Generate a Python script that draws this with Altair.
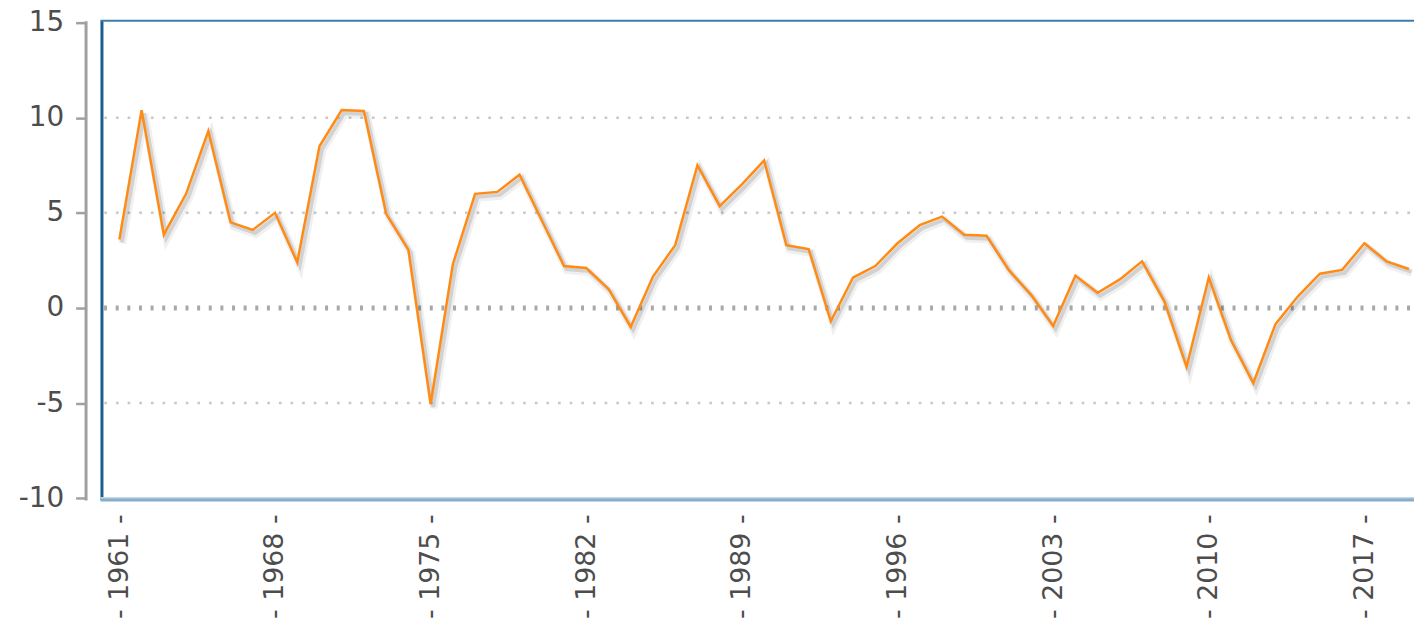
import altair as alt
import pandas as pd

# ---- data ----
years = list(range(1961, 2020))
values = [3.6, 10.4, 3.85, 6.0, 9.3, 4.5, 4.1, 5.0, 2.4, 8.5,
          10.4, 10.35, 4.95, 3.05, -5.05, 2.3, 6.0, 6.1, 7.0, 4.6,
          2.2, 2.1, 1.0, -1.0, 1.65, 3.3, 7.5, 5.35, 6.5, 7.75,
          3.3, 3.1, -0.7, 1.6, 2.2, 3.4, 4.35, 4.8, 3.85, 3.8,
          2.0, 0.7, -0.95, 1.7, 0.8, 1.5, 2.45, 0.35, -3.1, 1.6,
          -1.7, -3.95, -0.85, 0.6, 1.8, 2.0, 3.4, 2.45, 2.05]
x_tick_years = [1961, 1968, 1975, 1982, 1989, 1996, 2003, 2010, 2017]
y_ticks = [-10, -5, 0, 5, 10, 15]
grid_values = [-5, 5, 10]
zero_values = [0]

df = pd.DataFrame({"year": years, "value": values})
grid_df = pd.DataFrame({"value": grid_values})
zero_df = pd.DataFrame({"value": zero_values})
one_df = pd.DataFrame({"k": [0]})

W = 1321
H = 482
FONT = "DejaVu Sans"
TXT = "#4d4d4d"

x_scale = alt.Scale(domain=[1960.15, 2019.23], nice=False, zero=False)
y_scale = alt.Scale(domain=[-10.09, 15.1], nice=False, zero=False)

x_axis = alt.Axis(values=x_tick_years, format="d", labelAngle=270, labelAlign="right",
                  labelBaseline="middle", labelPadding=14, ticks=False, tickSize=0,
                  domain=False, grid=False, labelFont=FONT, labelFontSize=27,
                  labelColor=TXT, labelOverlap=False, labelFlush=False, labelBound=False,
                  labelExpr="'-\u00a0' + datum.label + '\u00a0-'", title=None)
y_axis = alt.Axis(values=y_ticks, offset=15, domain=True, domainColor="#a0a0a0",
                  domainWidth=3, ticks=True, tickColor="#a0a0a0", tickSize=10, tickWidth=2.5,
                  labelPadding=12, labelFont=FONT, labelFontSize=28, labelColor=TXT,
                  labelExpr="datum.value < 0 ? '-' + abs(datum.value) : '' + datum.value",
                  grid=False, labelOverlap=False, labelFlush=False, labelBound=False, title=None)

X = alt.X("year:Q", scale=x_scale, axis=x_axis)
Y = alt.Y("value:Q", scale=y_scale, axis=y_axis)

grid = alt.Chart(grid_df).mark_rule(color="#c8c8c8", strokeWidth=2.5, strokeDash=[2.7, 9],
                                    strokeDashOffset=7.7).encode(y=Y)
zero = alt.Chart(zero_df).mark_rule(color="#a8a8a8", strokeWidth=5, strokeDash=[3, 8.7],
                                    strokeDashOffset=7.7).encode(y=Y)

shadow1 = alt.Chart(df).mark_line(color="#000000", opacity=0.06, strokeWidth=8,
                                  xOffset=3, yOffset=4).encode(x=X, y=Y)
shadow2 = alt.Chart(df).mark_line(color="#000000", opacity=0.12, strokeWidth=4,
                                  xOffset=2.5, yOffset=3).encode(x=X, y=Y)
line = alt.Chart(df).mark_line(color="#ff8a14", strokeWidth=2.5).encode(x=X, y=Y)

border = alt.Chart(one_df)
left_b = border.mark_rule(color="#1b5b8e", strokeWidth=3).encode(
    x=alt.value(1.5), y=alt.value(0), y2=alt.value(H))
top_b = border.mark_rule(color="#3f7bab", strokeWidth=2).encode(
    x=alt.value(0), x2=alt.value(W), y=alt.value(0))
bot_b1 = border.mark_rule(color="#c2d6e5", strokeWidth=2).encode(
    x=alt.value(0), x2=alt.value(W), y=alt.value(H - 2))
bot_b2 = border.mark_rule(color="#86adc9", strokeWidth=3).encode(
    x=alt.value(0), x2=alt.value(W), y=alt.value(H))

chart = alt.layer(grid, zero, shadow1, shadow2, line, left_b, top_b, bot_b1, bot_b2).properties(
    width=W, height=H,
    autosize=alt.AutoSizeParams(type="none"),
    padding={"left": 93, "top": 11, "right": 0, "bottom": 120},
    background="white",
).configure_view(stroke=None)

chart.save("out.html", embed_options={"renderer": "svg", "actions": False})
